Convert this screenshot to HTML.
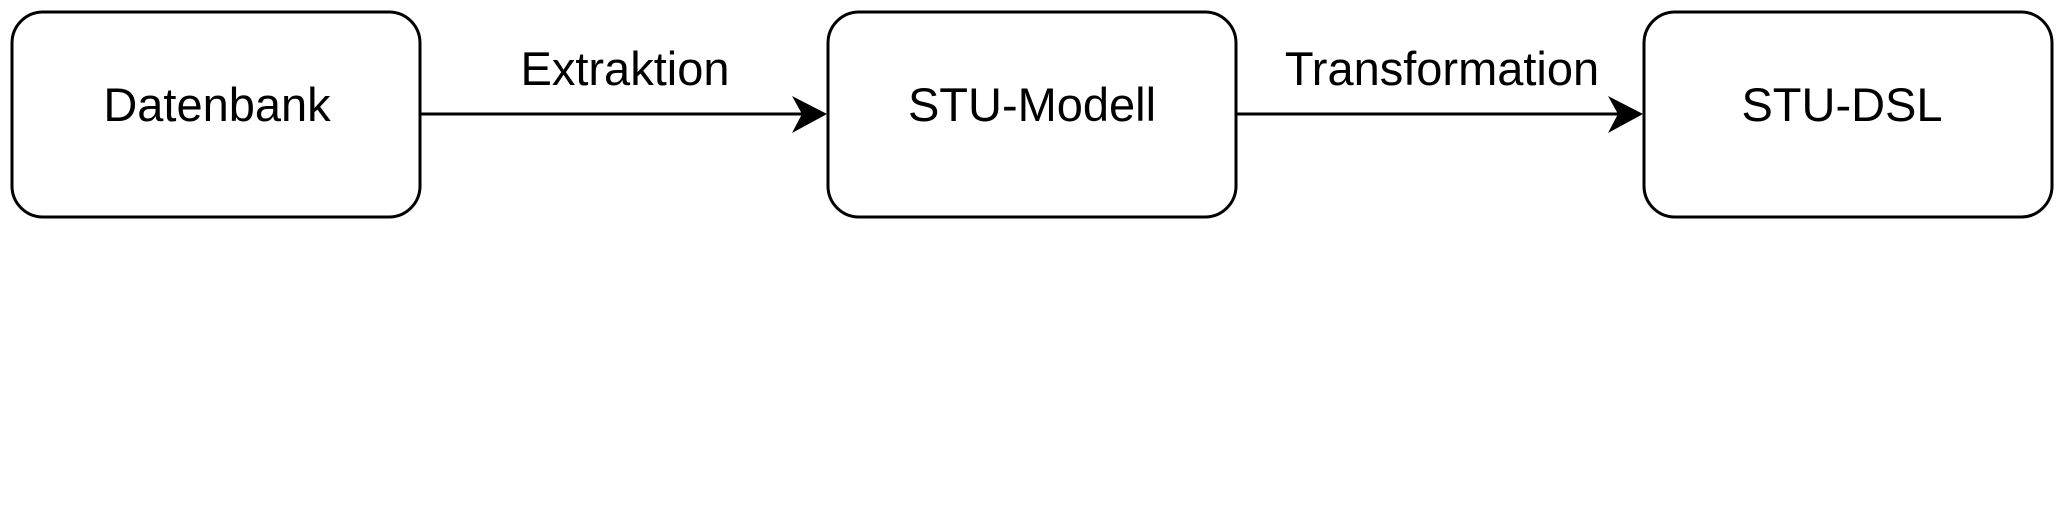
<!DOCTYPE html>
<html><head><meta charset="utf-8"><style>html,body{margin:0;padding:0;background:#fff;}svg{display:block}</style></head>
<body>
<svg width="2058" height="516" viewBox="0 0 2058 516" xmlns="http://www.w3.org/2000/svg">
<g fill="#fff" stroke="#000" stroke-width="3">
<rect x="12" y="12" width="408" height="205" rx="31" ry="31"/>
<rect x="828" y="12" width="408" height="205" rx="31" ry="31"/>
<rect x="1644" y="12" width="408" height="205" rx="31" ry="31"/>
</g>
<g stroke="#000" stroke-width="3">
<line x1="420" y1="114" x2="805" y2="114"/>
<line x1="1236" y1="114" x2="1621" y2="114"/>
</g>
<g fill="#000">
<path d="M827,114 L792,96 L802,114 L792,133 Z"/>
<path d="M1643,114 L1608,96 L1618,114 L1608,133 Z"/>
</g>
<g font-family="Liberation Sans, Helvetica, sans-serif" font-size="47" fill="#000" text-anchor="middle">
<text x="217" y="121">Datenbank</text>
<text x="1032" y="121">STU-Modell</text>
<text x="1842" y="121">STU-DSL</text>
<text x="625" y="85">Extraktion</text>
<text x="1442" y="85">Transformation</text>
</g>
</svg>
</body></html>
